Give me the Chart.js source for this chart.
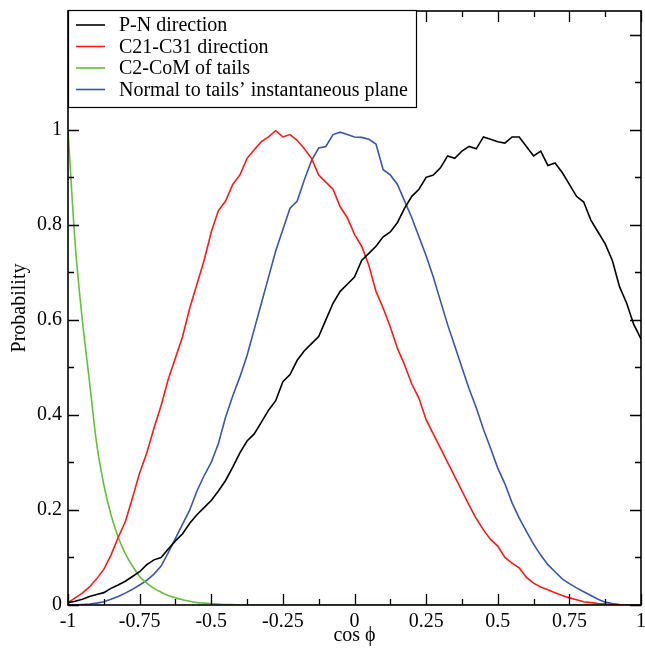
<!DOCTYPE html>
<html>
<head>
<meta charset="utf-8">
<script src="https://cdn.jsdelivr.net/npm/chart.js@4.4.1/dist/chart.umd.min.js"></script>
<style>
  html, body { margin: 0; padding: 0; background: #fff; }
  #wrap { width: 645px; height: 651px; }
</style>
</head>
<body>
<div id="wrap"><canvas id="myChart"></canvas></div>
<script>
// cos(phi) sample positions, step 0.025
const cosPhi = [];
for (let i = 0; i <= 80; i++) cosPhi.push(Math.round((-1 + i * 0.025) * 1000) / 1000);

const seriesLabels = ['P-N direction', 'C21-C31 direction', 'C2-CoM of tails', 'Normal to tails\u2019 instantaneous plane'];
const seriesColors = ['#000000', '#ff1a1a', '#66bf3c', '#3a56a8'];

// values, one per cosPhi entry
const pnDirection = [
  0.005, 0.008, 0.012, 0.018, 0.022, 0.026, 0.035, 0.042, 0.050, 0.060,
  0.070, 0.085, 0.095, 0.100, 0.118, 0.135, 0.150, 0.172, 0.190, 0.205,
  0.220, 0.240, 0.262, 0.290, 0.320, 0.345, 0.360, 0.385, 0.410, 0.430,
  0.470, 0.485, 0.515, 0.535, 0.550, 0.565, 0.600, 0.635, 0.660, 0.675,
  0.690, 0.725, 0.740, 0.755, 0.775, 0.785, 0.805, 0.835, 0.860, 0.875,
  0.900, 0.905, 0.920, 0.945, 0.940, 0.955, 0.965, 0.960, 0.985, 0.980,
  0.975, 0.972, 0.985, 0.985, 0.965, 0.945, 0.955, 0.925, 0.930, 0.910,
  0.885, 0.860, 0.848, 0.810, 0.785, 0.760, 0.725, 0.670, 0.635, 0.590,
  0.560
];
const c21c31Direction = [
  0.005, 0.015, 0.025, 0.038, 0.055, 0.075, 0.105, 0.142, 0.175, 0.225,
  0.278, 0.320, 0.372, 0.420, 0.475, 0.520, 0.565, 0.625, 0.675, 0.725,
  0.785, 0.830, 0.850, 0.885, 0.905, 0.940, 0.958, 0.975, 0.985, 0.998,
  0.985, 0.990, 0.978, 0.960, 0.940, 0.905, 0.890, 0.875, 0.838, 0.815,
  0.780, 0.755, 0.715, 0.660, 0.625, 0.585, 0.540, 0.505, 0.465, 0.435,
  0.390, 0.360, 0.330, 0.300, 0.270, 0.240, 0.210, 0.182, 0.158, 0.138,
  0.124, 0.100, 0.088, 0.078, 0.058, 0.046, 0.038, 0.032, 0.026, 0.020,
  0.015, 0.011, 0.007, 0.005, 0.003, 0.002, 0.001, 0.000, 0.000, 0.000,
  0.000
];
const c2ComTails = [
  1.000, 0.760, 0.600, 0.470, 0.340, 0.253, 0.190, 0.143, 0.108, 0.082,
  0.060, 0.046, 0.035, 0.027, 0.020, 0.015, 0.011, 0.008, 0.005, 0.004,
  0.003, 0.002, 0.001, 0.001, 0.000, 0.000, 0.000, 0.000, 0.000, 0.000,
  0.000, 0.000, 0.000, 0.000, 0.000, 0.000, 0.000, 0.000, 0.000, 0.000,
  0.000, 0.000, 0.000, 0.000, 0.000, 0.000, 0.000, 0.000, 0.000, 0.000,
  0.000, 0.000, 0.000, 0.000, 0.000, 0.000, 0.000, 0.000, 0.000, 0.000,
  0.000, 0.000, 0.000, 0.000, 0.000, 0.000, 0.000, 0.000, 0.000, 0.000,
  0.000, 0.000, 0.000, 0.000, 0.000, 0.000, 0.000, 0.000, 0.000, 0.000,
  0.000
];
const normalToPlane = [
  0.000, 0.000, 0.001, 0.002, 0.004, 0.007, 0.012, 0.018, 0.025, 0.033,
  0.042, 0.052, 0.065, 0.082, 0.110, 0.140, 0.170, 0.200, 0.240, 0.272,
  0.300, 0.340, 0.395, 0.440, 0.480, 0.525, 0.580, 0.635, 0.690, 0.745,
  0.790, 0.835, 0.850, 0.895, 0.935, 0.962, 0.965, 0.990, 0.995, 0.990,
  0.985, 0.984, 0.980, 0.970, 0.916, 0.905, 0.885, 0.850, 0.815, 0.775,
  0.735, 0.690, 0.640, 0.590, 0.545, 0.500, 0.455, 0.415, 0.370, 0.330,
  0.288, 0.255, 0.215, 0.183, 0.155, 0.128, 0.105, 0.085, 0.070, 0.055,
  0.045, 0.036, 0.028, 0.020, 0.012, 0.006, 0.003, 0.001, 0.000, 0.000,
  0.000
];

const xMajor = [-1, -0.75, -0.5, -0.25, 0, 0.25, 0.5, 0.75, 1];
const yMajor = [0, 0.2, 0.4, 0.6, 0.8, 1, 1.2];

const serif = "'Liberation Serif', 'Times New Roman', serif";

const toPoints = vals => vals.map((v, i) => ({x: cosPhi[i], y: v}));
const allSeries = [pnDirection, c21c31Direction, c2ComTails, normalToPlane];

// frame, inward ticks on all four sides, and the boxed legend
const framePlugin = {
    id: 'frame',
    afterDraw(chart) {
        const ctx = chart.ctx;
        const a = chart.chartArea;
        const xs = chart.scales.x, ys = chart.scales.y;
        ctx.save();
        ctx.strokeStyle = '#000';
        ctx.lineWidth = 1.3;
        const major = 11, minor = 6;
        ctx.beginPath();
        for (let i = 0; i < xMajor.length; i++) {
            const px = Math.round(xs.getPixelForValue(xMajor[i])) + 0.5;
            ctx.moveTo(px, a.bottom); ctx.lineTo(px, a.bottom - major);
            ctx.moveTo(px, a.top); ctx.lineTo(px, a.top + major);
            if (i < xMajor.length - 1) {
                const pm = Math.round(xs.getPixelForValue(xMajor[i] + 0.125)) + 0.5;
                ctx.moveTo(pm, a.bottom); ctx.lineTo(pm, a.bottom - minor);
                ctx.moveTo(pm, a.top); ctx.lineTo(pm, a.top + minor);
            }
        }
        for (let i = 0; i < yMajor.length; i++) {
            const py = Math.round(ys.getPixelForValue(yMajor[i])) + 0.5;
            ctx.moveTo(a.left, py); ctx.lineTo(a.left + major, py);
            ctx.moveTo(a.right, py); ctx.lineTo(a.right - major, py);
            const pm = Math.round(ys.getPixelForValue(yMajor[i] + 0.1)) + 0.5;
            if (yMajor[i] + 0.1 < 1.25) {
                ctx.moveTo(a.left, pm); ctx.lineTo(a.left + minor, pm);
                ctx.moveTo(a.right, pm); ctx.lineTo(a.right - minor, pm);
            }
        }
        ctx.stroke();
        ctx.lineWidth = 1.6;
        ctx.strokeRect(a.left, a.top, a.right - a.left, a.bottom - a.top);

        // legend
        const lx = a.left, ly = a.top - 1, lw = 348, lh = 97;
        ctx.fillStyle = '#fff';
        ctx.fillRect(lx, ly, lw, lh);
        ctx.lineWidth = 1.2;
        ctx.strokeRect(lx + 0.5, ly + 0.5, lw, lh);
        ctx.font = '20px ' + serif;
        ctx.textBaseline = 'middle';
        ctx.textAlign = 'left';
        chart.data.datasets.forEach((ds, i) => {
            const yy = ly + 15 + i * 21.5;
            ctx.strokeStyle = ds.borderColor;
            ctx.lineWidth = 1.6;
            ctx.beginPath();
            ctx.moveTo(lx + 8, yy); ctx.lineTo(lx + 37, yy);
            ctx.stroke();
            ctx.fillStyle = '#000';
            ctx.fillText(ds.label, lx + 51, yy + 1);
        });
        ctx.restore();
    }
};

const datasets = allSeries.map((vals, i) => ({
    label: seriesLabels[i],
    data: toPoints(vals),
    borderColor: seriesColors[i],
    backgroundColor: seriesColors[i],
    borderWidth: 1.6,
    pointRadius: 0,
    tension: 0,
    cubicInterpolationMode: i === 2 ? 'monotone' : 'default',
    fill: false
}));

const ctx = document.getElementById('myChart').getContext('2d');
const myChart = new Chart(ctx, {
    type: 'line',
    data: {datasets: datasets},
    options: {
        responsive: true,
        maintainAspectRatio: false,
        animation: false,
        layout: {padding: {left: 0, right: 4, top: 11, bottom: 3}},
        plugins: {
            legend: {display: false},
            tooltip: {enabled: false}
        },
        scales: {
            x: {
                type: 'linear',
                min: -1,
                max: 1,
                grid: {display: false, drawTicks: false},
                border: {display: false},
                ticks: {
                    stepSize: 0.25,
                    padding: 5,
                    maxRotation: 0,
                    autoSkip: false,
                    color: '#000',
                    font: {family: serif, size: 20},
                    callback: v => String(Math.round(v * 100) / 100)
                },
                title: {
                    display: true,
                    text: 'cos \u03D5',
                    color: '#000',
                    font: {family: serif, size: 20},
                    padding: {top: 0, bottom: 0}
                },
                afterFit: s => { s.height = 43; s.paddingLeft = 0; s.paddingRight = 0; }
            },
            y: {
                min: 0,
                max: 1.25,
                grid: {display: false, drawTicks: false},
                border: {display: false},
                ticks: {
                    stepSize: 0.2,
                    padding: 6,
                    color: '#000',
                    font: {family: serif, size: 20},
                    callback: v => v <= 1.0001 ? String(Math.round(v * 10) / 10) : ''
                },
                title: {
                    display: true,
                    text: 'Probability',
                    color: '#000',
                    font: {family: serif, size: 20},
                    padding: {top: 8, bottom: 0}
                },
                afterFit: s => { s.width = 68; s.paddingTop = 0; s.paddingBottom = 0; }
            }
        }
    },
    plugins: [framePlugin]
});
</script>
</body>
</html>
